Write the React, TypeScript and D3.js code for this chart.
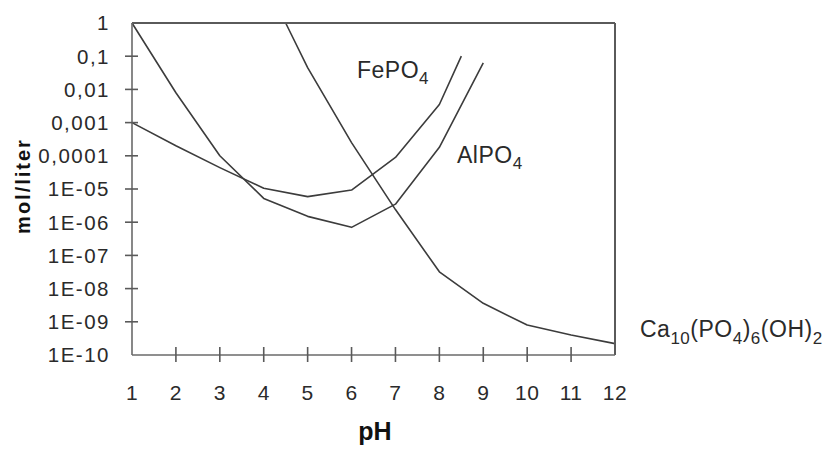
import React from "react";
import * as d3 from "d3";

const yTickValues = [1, 1e-1, 1e-2, 1e-3, 1e-4, 1e-5, 1e-6, 1e-7, 1e-8, 1e-9, 1e-10];
const yTickLabels = ["1", "0,1", "0,01", "0,001", "0,0001", "1E-05", "1E-06", "1E-07", "1E-08", "1E-09", "1E-10"];
const xTicks = [1, 2, 3, 4, 5, 6, 7, 8, 9, 10, 11, 12];

const alPH = [1, 2, 3, 4, 5, 6, 7, 8, 9];
const alVal = [1, 0.0079, 1e-4, 5.2e-6, 1.5e-6, 7e-7, 3.5e-6, 1.8e-4, 0.063];

const fePH = [1, 2, 3, 4, 5, 6, 7, 8, 8.5];
const feVal = [1e-3, 2e-4, 4.4e-5, 1.05e-5, 5.9e-6, 9.3e-6, 8.9e-5, 3.5e-3, 0.1];

const caPH = [4.5, 5, 6, 7, 8, 9, 10, 11, 12];
const caVal = [1, 0.045, 2.5e-4, 2.4e-6, 3.2e-8, 3.6e-9, 8e-10, 4e-10, 2.2e-10];

const W = 836, H = 449;
const L = 132, R = 615, T = 23, B = 355;

export default function App() {
  const x = d3.scaleLinear().domain([1, 12]).range([L, R]);
  const y = d3.scaleLog().domain([1e-10, 1]).range([B, T]);
  const line = d3.line<[number, number]>().x(d => x(d[0])).y(d => y(d[1]));
  const series = [
    { p: alPH, v: alVal },
    { p: fePH, v: feVal },
    { p: caPH, v: caVal },
  ];
  const tickFont = "'Liberation Sans', Arial, sans-serif";
  const txt = "#2a2a2a";
  return (
    <svg width={W} height={H} style={{ position: "absolute", left: 0, top: 0, background: "#fff" }}>
      {series.map((s, i) => (
        <path key={i} d={line(s.p.map((p, j) => [p, s.v[j]] as [number, number])) || ""}
          fill="none" stroke="#3c3c3c" strokeWidth={1.6} strokeLinejoin="round" />
      ))}
      <line x1={L} x2={R} y1={T} y2={T} stroke="#5a5a5a" strokeWidth={2} />
      <line x1={R} x2={R} y1={T} y2={B} stroke="#5a5a5a" strokeWidth={2} />
      <line x1={L} x2={L} y1={T} y2={B} stroke="#6a6a6a" strokeWidth={1.6} />
      <line x1={L} x2={R} y1={B} y2={B} stroke="#6a6a6a" strokeWidth={1.6} />
      {yTickValues.map((v, i) => (
        <g key={i}>
          {i > 0 && i < yTickValues.length - 1 && (
            <line x1={L - 7} x2={L + 6} y1={y(v)} y2={y(v)} stroke="#5a5a5a" strokeWidth={1.6} />
          )}
          <text x={110} y={y(v)} dy="0.36em" textAnchor="end" fontFamily={tickFont}
            fontSize={20.5} letterSpacing={1.5} fill={txt}>{yTickLabels[i]}</text>
        </g>
      ))}
      {xTicks.map((t, i) => (
        <g key={i}>
          {i > 0 && i < xTicks.length - 1 && (
            <line x1={x(t)} x2={x(t)} y1={B - 8} y2={B + 7} stroke="#5a5a5a" strokeWidth={1.6} />
          )}
          <text x={x(t)} y={400} textAnchor="middle" fontFamily={tickFont}
            fontSize={21} letterSpacing={0.5} fill={txt}>{String(t)}</text>
        </g>
      ))}
      <text x={375} y={440} textAnchor="middle" fontFamily={tickFont} fontWeight="bold"
        fontSize={25} fill="#111">pH</text>
      <text transform="translate(30,186) rotate(-90)" textAnchor="middle" fontFamily={tickFont}
        fontWeight="bold" fontSize={20} letterSpacing={2} fill="#111">mol/liter</text>
      <text x={357} y={78} fontFamily={tickFont} fontSize={23} letterSpacing={0.5} fill={txt}>
        FePO<tspan fontSize={17} dy={6}>4</tspan>
      </text>
      <text x={457} y={163} fontFamily={tickFont} fontSize={23} letterSpacing={0.5} fill={txt}>
        AlPO<tspan fontSize={17} dy={6}>4</tspan>
      </text>
      <text x={640} y={337} fontFamily={tickFont} fontSize={23} letterSpacing={0.5} fill={txt}>
        Ca<tspan fontSize={17} dy={7}>10</tspan>
        <tspan dy={-7}>(PO</tspan>
        <tspan fontSize={17} dy={7}>4</tspan>
        <tspan dy={-7}>)</tspan>
        <tspan fontSize={17} dy={7}>6</tspan>
        <tspan dy={-7}>(OH)</tspan>
        <tspan fontSize={17} dy={7}>2</tspan>
      </text>
    </svg>
  );
}
